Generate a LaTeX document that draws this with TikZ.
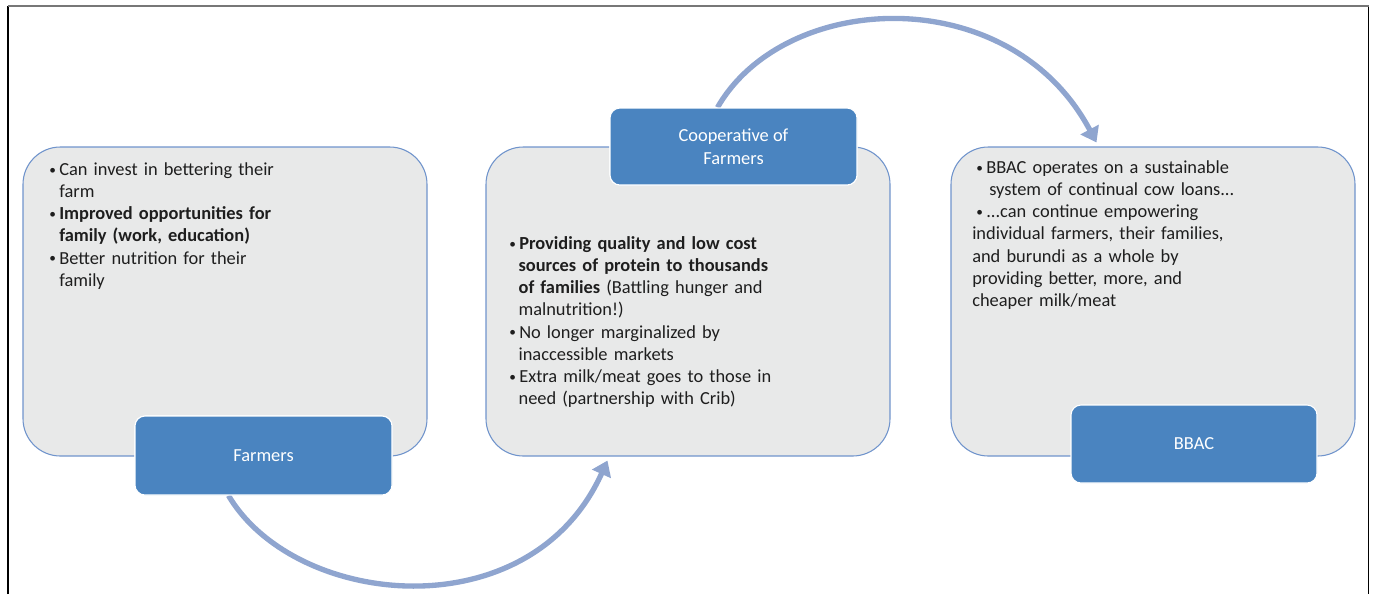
\documentclass[tikz,border=0pt]{standalone}
\usepackage{fontspec}
\setmainfont{Carlito}
\usetikzlibrary{arrows.meta,calc}
\definecolor{boxfill}{HTML}{E8E9E9}
\definecolor{boxline}{HTML}{7094CC}
\definecolor{bluefill}{HTML}{4A84C0}
\definecolor{arrowc}{HTML}{8FA5CF}
\definecolor{txt}{HTML}{1E1E1E}
\definecolor{framegray}{HTML}{777777}
\newcommand{\bul}{\makebox[7.5pt][l]{\raisebox{0.9pt}{\fontsize{10}{10}\selectfont\textbullet}}}
\begin{document}
\begin{tikzpicture}[x=0.75pt,y=-0.75pt,
  graybox/.style={draw=boxline, line width=0.8pt, fill=boxfill, rounded corners=28pt,
    minimum width=303pt, minimum height=231.75pt, inner sep=0pt},
  bluebox/.style={draw=white, line width=0.8pt, fill=bluefill, rounded corners=7.5pt,
    text=white, align=center, inner sep=0pt, font=\fontsize{13.8}{17.4}\selectfont},
  bodytext/.style={anchor=north west, inner sep=0pt, text=txt, align=left, text width=320pt,
    font=\fontsize{13.8}{16.65}\selectfont},
  flow/.style={draw=arrowc, line width=4pt, -{Triangle[width=15pt,length=11pt]}}]
\useasboundingbox (0,0) rectangle (1375,594);
% frame
\draw[black, line width=0.8pt] (8,594) -- (8,6);
\draw[black, line width=0.8pt] (1368.5,6) -- (1368.5,594);
\draw[framegray, line width=1.2pt] (8,6) -- (1368.5,6);

% gray boxes
\node[graybox] (b1) at (225,301.5) {};
\node[graybox] (b2) at (688,301.5) {};
\node[graybox] (b3) at (1153,301.5) {};

% blue box anchors (drawn before arrows so that arrows can reference them)
\node[bluebox, minimum width=192.75pt, minimum height=59.25pt] (f1) at (263.5,455.5) {Farmers};
\node[bluebox, minimum width=185.25pt, minimum height=57.75pt] (c1) at (733.5,146.5) {Cooperative of\\Farmers};
\node[bluebox, minimum width=184.5pt, minimum height=58.5pt] (a1) at (1194,444) {BBAC};

% arrows
\draw[flow] ($(f1.south)+(-35,0)$) .. controls (295,608) and (530,632) .. ($(b2.south west)+(122,4)$);
\draw[flow] ($(c1.north)+(-16,0)$) .. controls (785,-10) and (1010,-20) .. ($(b3.north west)+(146,-4)$);

% blue boxes again on top of the arrow starts
\node[bluebox, minimum width=192.75pt, minimum height=59.25pt] (f1b) at (f1) {Farmers};
\node[bluebox, minimum width=185.25pt, minimum height=57.75pt] (c1b) at (c1) {Cooperative of\\Farmers};

% texts
\node[bodytext] (t1) at (49,159.5) {\strut\bul Can invest in bettering their\\
\hspace*{7.5pt}farm\\
\bul\textbf{Improved opportunities for}\\
\hspace*{7.5pt}\textbf{family (work, education)}\\
\bul Better nutrition for their\\
\hspace*{7.5pt}family};

\node[bodytext] (t2) at (509,233.5) {\strut\bul\textbf{Providing quality and low cost}\\
\hspace*{7pt}\textbf{sources of protein to thousands}\\
\hspace*{7pt}\textbf{of families} (Battling hunger and\\
\hspace*{7pt}malnutrition!)\\
\bul No longer marginalized by\\
\hspace*{7pt}inaccessible markets\\
\bul Extra milk/meat goes to those in\\
\hspace*{7pt}need (partnership with Crib)};

\node[bodytext] (t3) at (972,157.5) {\strut\hspace*{3pt}\bul BBAC operates on a sustainable\\
\hspace*{12.75pt}system of continual cow loans...\\
\hspace*{3pt}\bul ...can continue empowering\\
individual farmers, their families,\\
and burundi as a whole by\\
providing better, more, and\\
cheaper milk/meat};
\end{tikzpicture}
\end{document}
